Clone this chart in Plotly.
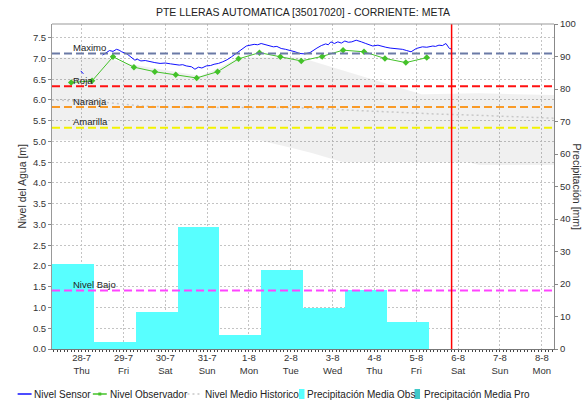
import pandas as pd
import plotly.graph_objects as go

TITLE = "PTE LLERAS AUTOMATICA [35017020] - CORRIENTE: META"

# Automatic sensor water level (m); None breaks the line at the data gap
sensor_time = [
    "2022-07-27 23:30", "2022-07-28 01:00", None,
    "2022-07-28 12:00", "2022-07-28 14:00", "2022-07-28 16:00", "2022-07-28 18:00",
    "2022-07-28 20:00", "2022-07-28 21:30", "2022-07-28 23:00",
    "2022-07-29 02:00", "2022-07-29 04:00", "2022-07-29 06:30", "2022-07-29 08:00",
    "2022-07-29 10:00", "2022-07-29 12:30", "2022-07-29 15:00", "2022-07-29 18:00",
    "2022-07-29 21:00", "2022-07-30 00:00", "2022-07-30 03:00", "2022-07-30 05:30",
    "2022-07-30 08:00", "2022-07-30 10:00", "2022-07-30 12:00", "2022-07-30 15:00",
    "2022-07-30 17:00", "2022-07-30 19:00", "2022-07-30 21:00", "2022-07-30 23:30",
    "2022-07-31 02:00", "2022-07-31 04:00", "2022-07-31 06:30", "2022-07-31 09:00",
    "2022-07-31 11:30", "2022-07-31 14:00", "2022-07-31 16:30", "2022-07-31 19:00",
    "2022-07-31 22:30", "2022-08-01 03:00", "2022-08-01 05:00", "2022-08-01 07:00",
    "2022-08-01 08:30", "2022-08-01 10:00", "2022-08-01 12:00", "2022-08-01 14:00",
    "2022-08-01 16:00", "2022-08-01 18:30", "2022-08-01 21:00", "2022-08-02 00:00",
    "2022-08-02 02:30", "2022-08-02 05:00", "2022-08-02 08:00", "2022-08-02 11:00",
    "2022-08-02 13:00", "2022-08-02 15:00", "2022-08-02 17:30", "2022-08-02 20:00",
    "2022-08-02 21:30", "2022-08-02 23:00", "2022-08-03 01:00", "2022-08-03 03:00",
    "2022-08-03 05:00", "2022-08-03 07:00", "2022-08-03 09:00", "2022-08-03 11:00",
    "2022-08-03 13:30", "2022-08-03 15:00", "2022-08-03 16:30", "2022-08-03 19:00",
    "2022-08-03 21:00", "2022-08-03 23:00", "2022-08-04 02:00", "2022-08-04 04:00",
    "2022-08-04 06:30", "2022-08-04 09:00", "2022-08-04 11:30", "2022-08-04 14:00",
    "2022-08-04 16:00", "2022-08-04 18:30", "2022-08-04 21:00", "2022-08-05 00:00",
    "2022-08-05 03:30", "2022-08-05 06:00", "2022-08-05 09:30", "2022-08-05 11:00",
    "2022-08-05 13:00", "2022-08-05 15:00", "2022-08-05 17:00", "2022-08-05 19:00",
    "2022-08-05 20:00",
]
sensor_level = [
    6.70, 6.63, None,
    7.08, 7.14, 7.19, 7.17,
    7.22, 7.20, 7.16,
    7.11, 7.04, 6.96, 6.98,
    6.94, 6.95, 6.92, 6.90,
    6.88, 6.89, 6.87, 6.85,
    6.84, 6.85, 6.82, 6.80,
    6.74, 6.79, 6.77, 6.82,
    6.83, 6.86, 6.88, 6.92,
    6.97, 7.04, 7.12, 7.20,
    7.30, 7.34, 7.33, 7.36,
    7.34, 7.32, 7.30, 7.28,
    7.29, 7.24, 7.22, 7.19,
    7.16, 7.12, 7.11, 7.14,
    7.20, 7.25, 7.31, 7.35,
    7.33, 7.40, 7.36, 7.40,
    7.37, 7.42, 7.39, 7.40,
    7.44, 7.41, 7.40, 7.36,
    7.33, 7.30, 7.32, 7.29,
    7.27, 7.25, 7.24, 7.23,
    7.22, 7.19, 7.16, 7.24,
    7.28, 7.27, 7.30, 7.29,
    7.32, 7.31, 7.36, 7.24,
    7.23,
]

# Observer readings (m), twice a day
obs_time = [
    "2022-07-27 18:00", "2022-07-28 06:00", "2022-07-28 18:00", "2022-07-29 06:00",
    "2022-07-29 18:00", "2022-07-30 06:00", "2022-07-30 18:00", "2022-07-31 06:00",
    "2022-07-31 18:00", "2022-08-01 06:00", "2022-08-01 18:00", "2022-08-02 06:00",
    "2022-08-02 18:00", "2022-08-03 06:00", "2022-08-03 18:00", "2022-08-04 06:00",
    "2022-08-04 18:00", "2022-08-05 06:00",
]
obs_level = [
    6.42, 6.46, 7.04, 6.79, 6.68, 6.61, 6.53, 6.68, 6.99,
    7.14, 7.04, 6.94, 7.05, 7.20, 7.16, 7.00, 6.90, 7.02,
]

# Historical mean level (m)
hist_time = [
    "2022-07-27 07:00", "2022-07-28 12:00", "2022-07-29 12:00", "2022-07-30 12:00",
    "2022-08-01 12:00", "2022-08-02 12:00", "2022-08-03 12:00", "2022-08-04 12:00",
    "2022-08-05 12:00", "2022-08-06 12:00", "2022-08-07 12:00", "2022-08-08 07:00",
]
hist_mean = [6.00, 5.95, 5.85, 5.82, 5.82, 5.80, 5.75, 5.70, 5.66, 5.63, 5.60, 5.56]

# Historical range envelope (m)
hist_upper_time = [
    "2022-07-27 07:00", "2022-07-28 13:00", "2022-07-29 06:00", "2022-07-30 06:00",
    "2022-07-30 20:00", "2022-07-31 08:00", "2022-07-31 16:00", "2022-08-01 00:00",
    "2022-08-02 05:00", "2022-08-05 03:00", "2022-08-06 12:00", "2022-08-08 07:00",
]
hist_upper = [7.02, 7.02, 6.85, 6.68, 6.58, 6.80, 6.98, 7.02, 7.03, 6.14, 6.16, 6.12]
hist_lower_time = [
    "2022-07-27 07:00", "2022-08-01 06:00", "2022-08-02 00:00", "2022-08-02 12:00",
    "2022-08-03 06:00", "2022-08-06 06:00", "2022-08-06 12:00", "2022-08-08 07:00",
]
hist_lower = [5.03, 5.03, 4.85, 4.72, 4.50, 4.50, 4.43, 4.43]

# Daily observed precipitation (mm), day ending 07:00
precip_day = [
    "2022-07-28", "2022-07-29", "2022-07-30", "2022-07-31", "2022-08-01",
    "2022-08-02", "2022-08-03", "2022-08-04", "2022-08-05",
]
precip_obs = [26.1, 2.1, 11.3, 37.4, 4.4, 24.4, 12.5, 18.2, 8.2]

# Alert thresholds (m)
threshold_names = ["Maximo", "Roja", "Naranja", "Amarilla", "Nivel Bajo"]
threshold_levels = [7.12, 6.33, 5.83, 5.33, 1.41]
threshold_colors = ["#6B7AA6", "#FF1010", "#F99A26", "#F2F200", "#FF44FF"]

tick_days = [
    "2022-07-28", "2022-07-29", "2022-07-30", "2022-07-31", "2022-08-01", "2022-08-02",
    "2022-08-03", "2022-08-04", "2022-08-05", "2022-08-06", "2022-08-07", "2022-08-08",
]
tick_labels = [
    "28-7<br>Thu", "29-7<br>Fri", "30-7<br>Sat", "31-7<br>Sun", "1-8<br>Mon", "2-8<br>Tue",
    "3-8<br>Wed", "4-8<br>Thu", "5-8<br>Fri", "6-8<br>Sat", "7-8<br>Sun", "8-8<br>Mon",
]
now_time = "2022-08-05 20:15"
x_range = ["2022-07-27 07:00", "2022-08-08 07:00"]

FONT = "Liberation Sans, Arial, sans-serif"
W, H = 588, 402
PL, PR, PT, PB = 52, 556, 24, 349


def fx(px):
    return (px - PL) / (PR - PL)


def fy(py):
    return (PB - py) / (PB - PT)


fig = go.Figure()

# historical envelope
fig.add_trace(go.Scatter(x=hist_lower_time, y=hist_lower, mode="lines",
                         line=dict(width=0), hoverinfo="skip", showlegend=False))
fig.add_trace(go.Scatter(x=hist_upper_time, y=hist_upper, mode="lines", fill="tonexty",
                         fillcolor="rgba(0,0,0,0.06)", line=dict(width=0),
                         hoverinfo="skip", showlegend=False))
# historical mean
fig.add_trace(go.Scatter(x=hist_time, y=hist_mean, mode="lines", name="Nivel Medio Historico",
                         line=dict(color="#C8C8C8", width=1.5, dash="2px,3px"),
                         showlegend=False))
# precipitation bars
bar_x = pd.to_datetime(precip_day) - pd.Timedelta(hours=5)
fig.add_trace(go.Bar(x=bar_x, y=precip_obs, width=86400000, yaxis="y2",
                     marker=dict(color="#58FFFF", line=dict(width=0)),
                     name="Precipitación Media Obs", showlegend=False))
# sensor and observer levels
fig.add_trace(go.Scatter(x=sensor_time, y=sensor_level, mode="lines", name="Nivel Sensor",
                         line=dict(color="#1010FF", width=1), connectgaps=False,
                         showlegend=False))
fig.add_trace(go.Scatter(x=obs_time, y=obs_level, mode="lines+markers", name="Nivel Observador",
                         line=dict(color="#44C22A", width=1),
                         marker=dict(symbol="diamond", size=5, color="#44C22A"),
                         showlegend=False))

shapes = []
annotations = []

# threshold lines and their labels
for name, lvl, col in zip(threshold_names, threshold_levels, threshold_colors):
    shapes.append(dict(type="line", xref="paper", yref="y", x0=0, x1=1, y0=lvl, y1=lvl,
                       line=dict(color=col, width=2, dash="8px,4px"), layer="above"))
    annotations.append(dict(text=name, xref="paper", yref="y", x=fx(71), y=lvl,
                            xanchor="left", yanchor="bottom", yshift=-1.5, showarrow=False,
                            font=dict(family=FONT, size=9.5, color="#222")))

# current time marker
shapes.append(dict(type="line", xref="x", yref="paper", x0=now_time, x1=now_time, y0=0, y1=1,
                   line=dict(color="#FF0000", width=1.5), layer="above"))
# top frame
shapes.append(dict(type="line", xref="paper", yref="paper", x0=0, x1=1, y0=1, y1=1,
                   line=dict(color="#999999", width=1)))

# axis titles
annotations.append(dict(text="Nivel del Agua [m]", xref="paper", yref="paper",
                        x=fx(21), y=0.5, xanchor="center", yanchor="middle", textangle=-90,
                        showarrow=False, font=dict(family=FONT, size=10.5, color="#333")))
annotations.append(dict(text="Precipitación [mm]", xref="paper", yref="paper",
                        x=fx(580), y=0.5, xanchor="center", yanchor="middle", textangle=90,
                        showarrow=False, font=dict(family=FONT, size=10.5, color="#333")))

# legend row
LY = 394
leg_font = dict(family=FONT, size=10, color="#222")
shapes.append(dict(type="line", xref="paper", yref="paper", x0=fx(17.5), x1=fx(31.5),
                   y0=fy(LY), y1=fy(LY), line=dict(color="#1010FF", width=1.5)))
annotations.append(dict(text="Nivel Sensor", xref="paper", yref="paper", x=fx(32), y=fy(LY),
                        xanchor="left", yanchor="middle", showarrow=False, font=leg_font))
shapes.append(dict(type="line", xref="paper", yref="paper", x0=fx(93), x1=fx(107),
                   y0=fy(LY), y1=fy(LY), line=dict(color="#44C22A", width=1.5)))
shapes.append(dict(type="rect", xref="paper", yref="paper", x0=fx(98.5), x1=fx(101.5),
                   y0=fy(LY + 1.5), y1=fy(LY - 1.5), line=dict(width=0), fillcolor="#44C22A"))
annotations.append(dict(text="Nivel Observador", xref="paper", yref="paper", x=fx(108), y=fy(LY),
                        xanchor="left", yanchor="middle", showarrow=False, font=leg_font))
shapes.append(dict(type="line", xref="paper", yref="paper", x0=fx(188), x1=fx(202),
                   y0=fy(LY), y1=fy(LY), line=dict(color="#C8C8C8", width=1.5, dash="2px,3px")))
annotations.append(dict(text="Nivel Medio Historico", xref="paper", yref="paper", x=fx(204),
                        y=fy(LY), xanchor="left", yanchor="middle", showarrow=False,
                        font=leg_font))
shapes.append(dict(type="rect", xref="paper", yref="paper", x0=fx(300), x1=fx(305.5),
                   y0=fy(399), y1=fy(389), line=dict(width=0), fillcolor="#58FFFF"))
annotations.append(dict(text="Precipitación Media Obs", xref="paper", yref="paper", x=fx(306),
                        y=fy(LY), xanchor="left", yanchor="middle", showarrow=False,
                        font=leg_font))
shapes.append(dict(type="rect", xref="paper", yref="paper", x0=fx(416), x1=fx(421.5),
                   y0=fy(399), y1=fy(389), line=dict(width=0), fillcolor="#40C8C8"))
annotations.append(dict(text="Precipitación Media Pro", xref="paper", yref="paper",
                        x=fx(423), y=fy(LY), xanchor="left", yanchor="middle",
                        showarrow=False, font=leg_font))

tick_font = dict(family=FONT, size=9.5, color="#333")
fig.update_layout(
    width=W, height=H,
    margin=dict(l=PL, r=W - PR, t=PT, b=H - PB, pad=0),
    paper_bgcolor="white", plot_bgcolor="white",
    showlegend=False, bargap=0,
    title=dict(text=TITLE, x=0.5, xref="paper", y=1 - 12 / H, yref="container",
               xanchor="center", yanchor="middle",
               font=dict(family=FONT, size=10.5, color="#222")),
    xaxis=dict(type="date", range=x_range, tickvals=tick_days, ticktext=tick_labels,
               tickfont=tick_font, ticks="", showgrid=True, gridcolor="#C4C4C4",
               griddash="2px,2px", gridwidth=1, showline=True, linecolor="#777",
               linewidth=1, zeroline=False,
               minor=dict(ticks="outside", ticklen=2, dtick=2 * 3600 * 1000,
                          tickcolor="#444", showgrid=False)),
    yaxis=dict(range=[0, 7.83], dtick=0.5, tick0=0, tickformat=".1f", tickfont=tick_font,
               ticks="outside", ticklen=3, tickcolor="#888", showgrid=True,
               gridcolor="#C4C4C4", griddash="2px,2px", showline=True, linecolor="#999",
               zeroline=False),
    yaxis2=dict(range=[0, 100], dtick=10, tick0=0, overlaying="y", side="right",
                tickfont=tick_font, ticks="outside", ticklen=3, tickcolor="#888",
                showgrid=False, showline=True, linecolor="#888", zeroline=False),
    shapes=shapes,
    annotations=annotations,
)

fig.write_html("out.html")
